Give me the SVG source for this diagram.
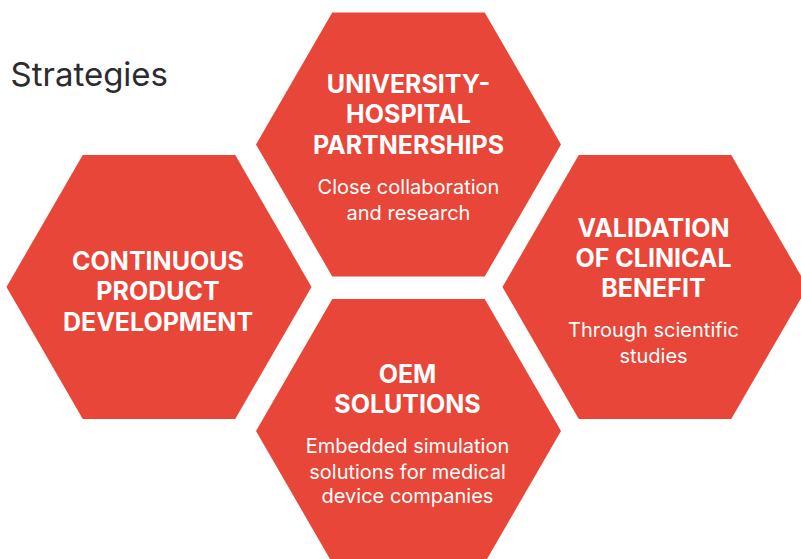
<svg xmlns="http://www.w3.org/2000/svg" width="801" height="559" viewBox="0 0 801 559">
  <defs>
    <!-- regular hexagon, circumradius 152.5, centred on the origin -->
    <polygon id="hex" points="-152.5,0 -76.25,-132 76.25,-132 152.5,0 76.25,132 -76.25,132"/>
  </defs>
  <style>
    .hex { fill: #E74639; }
    .head { font-family: Inter, "Noto Sans", "Liberation Sans", sans-serif; font-size: 25px; font-weight: 700; fill: #FFFFFF; text-anchor: middle; }
    .body { font-family: Inter, "Noto Sans", "Liberation Sans", sans-serif; font-size: 20px; font-weight: 400; fill: #FFFFFF; text-anchor: middle; }
    .title { font-family: Inter, "Noto Sans", "Liberation Sans", sans-serif; font-size: 33px; font-weight: 400; fill: #2B2B30; }
  </style>
  <rect width="801" height="559" fill="#FFFFFF"/>

  <text class="title" x="10.5" y="86">Strategies</text>

  <g id="connectors"/>

  <g id="node-continuous-development">
    <use href="#hex" class="hex" transform="translate(159,287)"/>
    <text class="head" x="158" y="269.5">CONTINUOUS</text>
    <text class="head" x="158" y="300">PRODUCT</text>
    <text class="head" x="158" y="330.5">DEVELOPMENT</text>
  </g>

  <g id="node-university-hospital">
    <use href="#hex" class="hex" transform="translate(408.5,144.5)"/>
    <text class="head" x="408.5" y="92.7">UNIVERSITY-</text>
    <text class="head" x="408.5" y="123.3">HOSPITAL</text>
    <text class="head" x="408.5" y="154">PARTNERSHIPS</text>
    <text class="body" x="408.5" y="194">Close collaboration</text>
    <text class="body" x="408.5" y="220">and research</text>
  </g>

  <g id="node-clinical-validation">
    <use href="#hex" class="hex" transform="translate(655,287)"/>
    <text class="head" x="653.5" y="236.7">VALIDATION</text>
    <text class="head" x="653.5" y="266.7">OF CLINICAL</text>
    <text class="head" x="653.5" y="296.7">BENEFIT</text>
    <text class="body" x="653.5" y="336.7">Through scientific</text>
    <text class="body" x="653.5" y="362.7">studies</text>
  </g>

  <g id="node-oem-solutions">
    <use href="#hex" class="hex" transform="translate(408.5,431)"/>
    <text class="head" x="407.5" y="382.7">OEM</text>
    <text class="head" x="407.5" y="412.7">SOLUTIONS</text>
    <text class="body" x="407.5" y="453.3">Embedded simulation</text>
    <text class="body" x="407.5" y="478.7">solutions for medical</text>
    <text class="body" x="407.5" y="503.3">device companies</text>
  </g>
</svg>
